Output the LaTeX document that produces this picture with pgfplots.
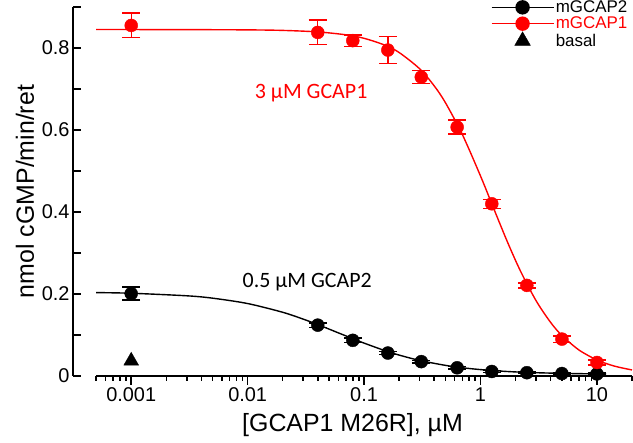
\documentclass[border=0pt]{standalone}
\usepackage{pgfplots}
\pgfplotsset{compat=1.18}
\usepackage{fontspec}
\setmainfont{Liberation Sans}
\newfontfamily\calib{Carlito}

\begin{document}
\begin{tikzpicture}
\begin{axis}[
  scale only axis, width=559bp, height=369bp,
  xmode=log, xmin=3.1623e-4, xmax=20, ymin=0, ymax=0.9,
  axis line style={draw=none},
  axis x line*=bottom, axis y line*=left,
  tick style={draw=none},
  clip=false,
  xtick={0.001,0.01,0.1,1,10}, xticklabels={0.001,0.01,0.1,1,10},
  ytick={0,0.2,0.4,0.6,0.8},
  /pgf/number format/assume math mode=true,
  tick label style={font=\fontsize{20}{20}\selectfont},
  xticklabel style={yshift=-8bp},
  label style={font=\fontsize{25}{25}\selectfont},
  xlabel={[GCAP1 M26R], µM},
  ylabel={nmol cGMP/min/ret},
  xlabel style={at={(rel axis cs:0.5,0)}, anchor=center, yshift=-49bp},
  ylabel style={at={(rel axis cs:0,0.5)}, anchor=center, yshift=48bp},
  legend image code/.code={\draw[mark repeat=2,mark phase=2,#1] plot coordinates {(0bp,0bp) (31bp,0bp) (62bp,0bp)};},
  legend style={at={(rel axis cs:1,1)}, anchor=north east, xshift=-3bp, yshift=8bp,
    draw=none, fill=none, font=\fontsize{17}{17}\selectfont, row sep=0bp, inner sep=0bp,
    nodes={inner sep=1.5bp}},
  legend cell align=left,
]
\coordinate (bl) at (rel axis cs:0,0);
\coordinate (tr) at (rel axis cs:1,1);

% axis lines and ticks (Origin style, detached)
\draw[line width=1.8bp] (axis cs:3.1623e-4,0) -- (axis cs:3.1623e-4,0.9);
\draw[line width=1.8bp] (axis cs:5e-4,0) -- (axis cs:20,0);
\pgfplotsinvokeforeach{0,0.1,0.2,0.3,0.4,0.5,0.6,0.7,0.8,0.9}{
  \draw[line width=1.5bp] (axis cs:3.1623e-4,#1) -- ++(8bp,0bp);}
\pgfplotsinvokeforeach{0.001,0.01,0.1,1,10}{
  \draw[line width=1.5bp] (axis cs:#1,0) -- ++(0bp,-9bp);}
\pgfplotsinvokeforeach{5e-4,6e-4,7e-4,8e-4,9e-4,0.002,0.003,0.004,0.005,0.006,0.007,0.008,0.009,0.02,0.03,0.04,0.05,0.06,0.07,0.08,0.09,0.2,0.3,0.4,0.5,0.6,0.7,0.8,0.9,2,3,4,5,6,7,8,9,20}{
  \draw[line width=1.5bp] (axis cs:#1,0) -- ++(0bp,-5bp);}

% fitted curves
\addplot[black, line width=1.4bp, smooth, forget plot] coordinates {
  (0.0005,0.2034) (0.001,0.2018) (0.003,0.1956) (0.005,0.1898) (0.01,0.1767)
  (0.02,0.1554) (0.03,0.1387) (0.04,0.1254) (0.06,0.1053) (0.08,0.0910)
  (0.1,0.0802) (0.15,0.0621) (0.2,0.0510) (0.3,0.0380) (0.5,0.0259)
  (0.7,0.0201) (1,0.0156) (1.5,0.0119) (2,0.0099) (3,0.0080) (5,0.0064)
  (7,0.0057) (10,0.0052) (12,0.0050)};
\addplot[red, line width=1.4bp, smooth, forget plot] coordinates {
  (0.0005,0.845) (0.001,0.845) (0.003,0.8448) (0.01,0.8442) (0.02,0.8429)
  (0.04,0.8392) (0.07,0.8321) (0.1,0.8236) (0.15,0.8072) (0.2,0.7890)
  (0.3,0.7493) (0.4,0.7077) (0.5,0.6664) (0.7,0.5883) (1,0.4878)
  (1.3,0.408) (1.7,0.3275) (2.2,0.2564) (3,0.1837) (4,0.1307) (5,0.0988)
  (7,0.0635) (10,0.0391) (14,0.0244) (20,0.0147)};

% data points
\addplot[black, only marks, mark=*, mark size=6.5bp, forget plot,
  error bars/.cd, y dir=both, y explicit,
  error bar style={line width=1.4bp},
  error mark options={black, rotate=90, mark size=9bp, line width=1.4bp}] coordinates {
  (0.001,0.201) +- (0,0.016)
  (0.04,0.124) +- (0,0.005)
  (0.08,0.087) +- (0,0.006)
  (0.16,0.056) +- (0,0.004)
  (0.31,0.035) +- (0,0.003)
  (0.63,0.020) +- (0,0.003)
  (1.25,0.011) +- (0,0.002)
  (2.5,0.008) +- (0,0.002)
  (5,0.006) +- (0,0.002)
  (10,0.005) +- (0,0.002)};
\addplot[red, only marks, mark=*, mark size=6.5bp, forget plot,
  error bars/.cd, y dir=both, y explicit,
  error bar style={line width=1.4bp},
  error mark options={red, rotate=90, mark size=9bp, line width=1.4bp}] coordinates {
  (0.001,0.855) +- (0,0.030)
  (0.04,0.838) +- (0,0.030)
  (0.08,0.818) +- (0,0.014)
  (0.16,0.795) +- (0,0.033)
  (0.31,0.729) +- (0,0.016)
  (0.63,0.607) +- (0,0.017)
  (1.25,0.420) +- (0,0.011)
  (2.5,0.221) +- (0,0.006)
  (5,0.090) +- (0,0.008)
  (10,0.033) +- (0,0.006)};
\addplot[black, only marks, mark=triangle*, mark size=8.5bp, forget plot] coordinates {(0.001,0.037)};

\node[red, font=\calib\fontsize{22}{22}\selectfont] at (axis cs:0.0351,0.69) {3 μM GCAP1};
\node[black, font=\calib\fontsize{22}{22}\selectfont] at (axis cs:0.0325,0.229) {0.5 μM GCAP2};

\addlegendimage{black, line width=1.4bp, mark=*, mark size=6.5bp}
\addlegendentry{mGCAP2}
\addlegendimage{red, line width=1.4bp, mark=*, mark size=6.5bp}
\addlegendentry{\textcolor{red}{mGCAP1}}
\addlegendimage{black, only marks, mark=triangle*, mark size=9bp}
\addlegendentry{basal}
\end{axis}
\pgfresetboundingbox
\path[use as bounding box] ([shift={(-73bp,-67bp)}]bl) rectangle ([shift={(1bp,7bp)}]tr);
\end{tikzpicture}
\end{document}
